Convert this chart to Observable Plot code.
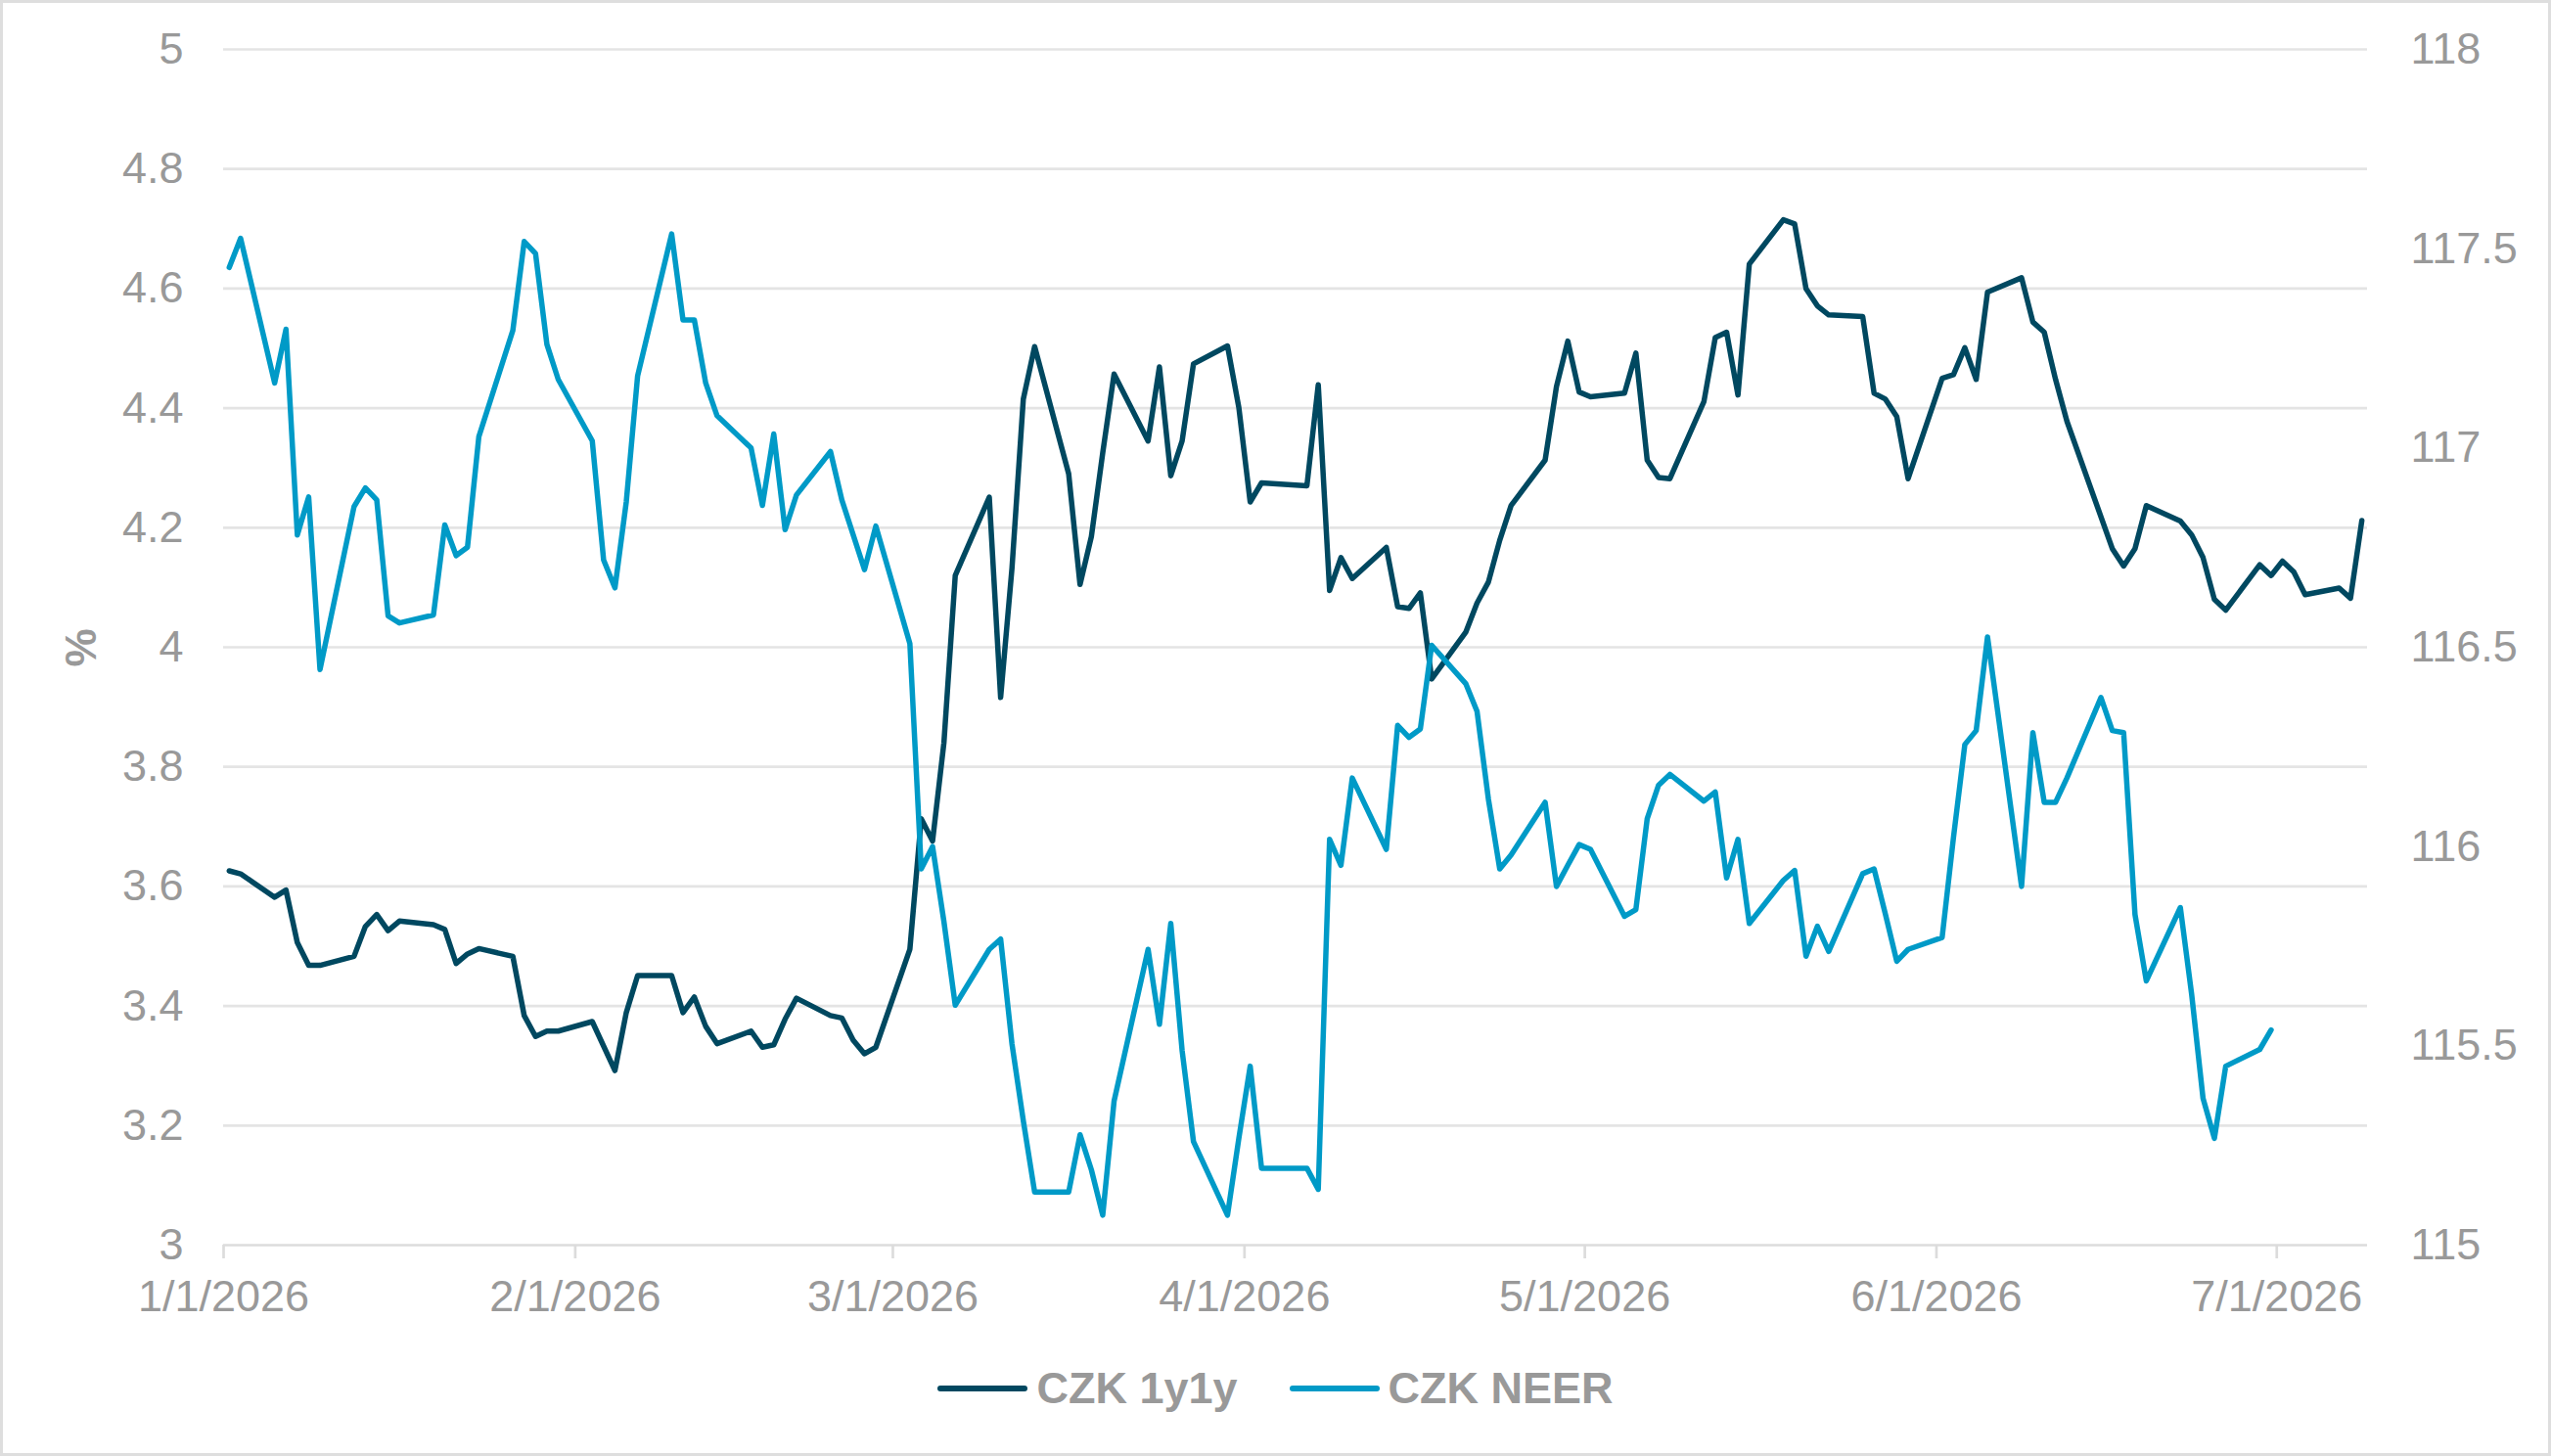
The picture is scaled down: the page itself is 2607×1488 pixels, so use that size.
<!DOCTYPE html>
<html>
<head>
<meta charset="utf-8">
<script src="https://cdn.jsdelivr.net/npm/d3@7"></script>
<script src="https://cdn.jsdelivr.net/npm/@observablehq/plot@0.6"></script>
<style>
  html, body { margin: 0; padding: 0; background: #fff; }
  #wrap { position: relative; width: 2607px; height: 1488px; overflow: hidden; background: #fff;
          font-family: "Liberation Sans", Arial, sans-serif; }
  #chart svg { display: block; position: absolute; left: 0; top: 0; }
  #border { position: absolute; inset: 0; border: 3px solid #dedede; pointer-events: none; }
  #ylabel { position: absolute; left: 83px; top: 662px; transform: translate(-50%, -50%) rotate(-90deg);
            font-weight: bold; font-size: 44px; color: #999; }
  #legend { position: absolute; left: 0; width: 2607px; top: 1392px; height: 54px; display: flex;
            justify-content: center; align-items: center; gap: 53px; font-weight: bold; font-size: 45px; color: #999; }
  .item { display: flex; align-items: center; gap: 9px; }
  .swatch { width: 92px; height: 6px; border-radius: 3px; }
</style>
</head>
<body>
<div id="wrap">
  <div id="chart"></div>
  <div id="ylabel">%</div>
  <div id="legend"></div>
  <div id="border"></div>
</div>
<script>
// ---- data ----
const seriesNames = ["CZK 1y1y", "CZK NEER"];
const seriesColors = ["#004860", "#009ac7"];

// CZK 1y1y, % (left axis)
const czk1y1y = [
  ["2026-01-01",3.626],["2026-01-02",3.621],["2026-01-05",3.582],["2026-01-06",3.594],["2026-01-07",3.506],
  ["2026-01-08",3.468],["2026-01-09",3.468],["2026-01-12",3.483],["2026-01-13",3.533],["2026-01-14",3.553],
  ["2026-01-15",3.526],["2026-01-16",3.542],["2026-01-19",3.536],["2026-01-20",3.528],["2026-01-21",3.471],
  ["2026-01-22",3.487],["2026-01-23",3.496],["2026-01-26",3.483],["2026-01-27",3.384],["2026-01-28",3.349],
  ["2026-01-29",3.358],["2026-01-30",3.358],["2026-02-02",3.374],["2026-02-04",3.292],["2026-02-05",3.389],
  ["2026-02-06",3.451],["2026-02-09",3.451],["2026-02-10",3.389],["2026-02-11",3.415],["2026-02-12",3.366],
  ["2026-02-13",3.337],["2026-02-16",3.358],["2026-02-17",3.331],["2026-02-18",3.335],["2026-02-19",3.378],
  ["2026-02-20",3.413],["2026-02-23",3.384],["2026-02-24",3.380],["2026-02-25",3.343],["2026-02-26",3.320],
  ["2026-02-27",3.331],["2026-03-02",3.495],["2026-03-03",3.713],["2026-03-04",3.676],["2026-03-05",3.840],
  ["2026-03-06",4.120],["2026-03-09",4.251],["2026-03-10",3.916],["2026-03-11",4.132],["2026-03-12",4.415],
  ["2026-03-13",4.503],["2026-03-16",4.290],["2026-03-17",4.105],["2026-03-18",4.185],["2026-03-19",4.325],
  ["2026-03-20",4.457],["2026-03-23",4.345],["2026-03-24",4.469],["2026-03-25",4.287],["2026-03-26",4.345],
  ["2026-03-27",4.474],["2026-03-30",4.504],["2026-03-31",4.401],["2026-04-01",4.243],["2026-04-02",4.275],
  ["2026-04-06",4.270],["2026-04-07",4.439],["2026-04-08",4.095],["2026-04-09",4.150],["2026-04-10",4.115],
  ["2026-04-13",4.167],["2026-04-14",4.068],["2026-04-15",4.065],["2026-04-16",4.091],["2026-04-17",3.947],
  ["2026-04-20",4.025],["2026-04-21",4.074],["2026-04-22",4.109],["2026-04-23",4.179],["2026-04-24",4.237],
  ["2026-04-27",4.313],["2026-04-28",4.436],["2026-04-29",4.512],["2026-04-30",4.427],["2026-05-01",4.419],
  ["2026-05-04",4.425],["2026-05-05",4.492],["2026-05-06",4.313],["2026-05-07",4.284],["2026-05-08",4.282],
  ["2026-05-11",4.411],["2026-05-12",4.518],["2026-05-13",4.527],["2026-05-14",4.422],["2026-05-15",4.641],
  ["2026-05-18",4.715],["2026-05-19",4.708],["2026-05-20",4.600],["2026-05-21",4.571],["2026-05-22",4.556],
  ["2026-05-25",4.553],["2026-05-26",4.425],["2026-05-27",4.415],["2026-05-28",4.386],["2026-05-29",4.282],
  ["2026-06-01",4.450],["2026-06-02",4.456],["2026-06-03",4.501],["2026-06-04",4.448],["2026-06-05",4.594],
  ["2026-06-08",4.618],["2026-06-09",4.544],["2026-06-10",4.527],["2026-06-11",4.448],["2026-06-12",4.378],
  ["2026-06-16",4.165],["2026-06-17",4.136],["2026-06-18",4.165],["2026-06-19",4.237],["2026-06-22",4.211],
  ["2026-06-23",4.188],["2026-06-24",4.150],["2026-06-25",4.080],["2026-06-26",4.062],["2026-06-29",4.138],
  ["2026-06-30",4.120],["2026-07-01",4.144],["2026-07-02",4.126],["2026-07-03",4.088],["2026-07-06",4.099],
  ["2026-07-07",4.082],["2026-07-08",4.212]
];

// CZK NEER index (right axis)
const czkNeer = [
  ["2026-01-01",117.453],["2026-01-02",117.526],["2026-01-05",117.163],["2026-01-06",117.298],["2026-01-07",116.782],
  ["2026-01-08",116.877],["2026-01-09",116.444],["2026-01-12",116.853],["2026-01-13",116.900],["2026-01-14",116.870],
  ["2026-01-15",116.579],["2026-01-16",116.561],["2026-01-19",116.581],["2026-01-20",116.807],["2026-01-21",116.730],
  ["2026-01-22",116.751],["2026-01-23",117.028],["2026-01-26",117.295],["2026-01-27",117.518],["2026-01-28",117.488],
  ["2026-01-29",117.260],["2026-01-30",117.172],["2026-02-02",117.018],["2026-02-03",116.719],["2026-02-04",116.649],
  ["2026-02-05",116.865],["2026-02-06",117.181],["2026-02-09",117.537],["2026-02-10",117.321],["2026-02-11",117.321],
  ["2026-02-12",117.163],["2026-02-13",117.081],["2026-02-16",117.000],["2026-02-17",116.856],["2026-02-18",117.035],
  ["2026-02-19",116.795],["2026-02-20",116.882],["2026-02-23",116.991],["2026-02-24",116.870],["2026-02-26",116.695],
  ["2026-02-27",116.804],["2026-03-02",116.509],["2026-03-03",115.944],["2026-03-04",116.000],["2026-03-05",115.812],
  ["2026-03-06",115.602],["2026-03-09",115.742],["2026-03-10",115.768],["2026-03-11",115.505],["2026-03-12",115.312],
  ["2026-03-13",115.133],["2026-03-16",115.133],["2026-03-17",115.277],["2026-03-18",115.189],["2026-03-19",115.075],
  ["2026-03-20",115.361],["2026-03-23",115.742],["2026-03-24",115.554],["2026-03-25",115.807],["2026-03-26",115.488],
  ["2026-03-27",115.260],["2026-03-30",115.075],["2026-03-31",115.268],["2026-04-01",115.449],["2026-04-02",115.193],
  ["2026-04-06",115.193],["2026-04-07",115.140],["2026-04-08",116.018],["2026-04-09",115.953],["2026-04-10",116.172],
  ["2026-04-13",115.993],["2026-04-14",116.304],["2026-04-15",116.274],["2026-04-16",116.295],["2026-04-17",116.505],
  ["2026-04-20",116.409],["2026-04-21",116.339],["2026-04-22",116.119],["2026-04-23",115.944],["2026-04-24",115.979],
  ["2026-04-27",116.111],["2026-04-28",115.900],["2026-04-29",115.953],["2026-04-30",116.005],["2026-05-01",115.993],
  ["2026-05-04",115.825],["2026-05-05",115.842],["2026-05-06",116.070],["2026-05-07",116.154],["2026-05-08",116.181],
  ["2026-05-11",116.114],["2026-05-12",116.137],["2026-05-13",115.921],["2026-05-14",116.018],["2026-05-15",115.807],
  ["2026-05-18",115.915],["2026-05-19",115.940],["2026-05-20",115.725],["2026-05-21",115.800],["2026-05-22",115.737],
  ["2026-05-25",115.932],["2026-05-26",115.944],["2026-05-27",115.830],["2026-05-28",115.712],["2026-05-29",115.742],
  ["2026-06-01",115.772],["2026-06-02",116.023],["2026-06-03",116.256],["2026-06-04",116.291],["2026-06-05",116.526],
  ["2026-06-08",115.900],["2026-06-09",116.286],["2026-06-10",116.111],["2026-06-11",116.111],["2026-06-12",116.172],
  ["2026-06-15",116.374],["2026-06-16",116.291],["2026-06-17",116.286],["2026-06-18",115.830],["2026-06-19",115.663],
  ["2026-06-22",115.847],["2026-06-23",115.628],["2026-06-24",115.368],["2026-06-25",115.268],["2026-06-26",115.449],
  ["2026-06-29",115.491],["2026-06-30",115.540]
];

const leftTicks = [3, 3.2, 3.4, 3.6, 3.8, 4, 4.2, 4.4, 4.6, 4.8, 5];
const rightTicks = [115, 115.5, 116, 116.5, 117, 117.5, 118];
const xTicks = ["2026-01-01","2026-02-01","2026-03-01","2026-04-01","2026-05-01","2026-06-01","2026-07-01"];
const xDomain = ["2026-01-01", "2026-07-09"];
const leftDomain = [3, 5];
const rightDomain = [115, 118];

// map the right (NEER) axis onto the left scale
const toLeft = v => leftDomain[0] + (v - rightDomain[0]) * (leftDomain[1] - leftDomain[0]) / (rightDomain[1] - rightDomain[0]);
const fromLeft = v => rightDomain[0] + (v - leftDomain[0]) * (rightDomain[1] - rightDomain[0]) / (leftDomain[1] - leftDomain[0]);
// daily points sit in the middle of their day, as on a spreadsheet date axis
const dayMid = s => new Date(s + "T12:00:00Z");

const gray = "#999999";
const chart = Plot.plot({
  width: 2607,
  height: 1370,
  marginTop: 50,
  marginBottom: 98,
  marginLeft: 228,
  marginRight: 188,
  style: { fontFamily: "'Liberation Sans', Arial, sans-serif", fontSize: "45px", color: gray, background: "transparent", overflow: "visible" },
  x: { type: "utc", domain: xDomain.map(d => new Date(d)) },
  y: { domain: leftDomain },
  marks: [
    Plot.gridY(leftTicks.filter(d => d > 3), { stroke: "#e4e4e4", strokeOpacity: 1, strokeWidth: 2.7 }),
    Plot.axisY(leftTicks, { anchor: "left", tickSize: 0, tickPadding: 41, fill: gray, label: null,
      tickFormat: d => String(+d.toFixed(1)) }),
    Plot.axisY(rightTicks.map(toLeft), { anchor: "right", tickSize: 0, tickPadding: 44, fill: gray, label: null,
      tickFormat: d => String(Math.round(fromLeft(d) * 10) / 10) }),
    Plot.ruleY([leftDomain[0]], { stroke: "#dcdcdc", strokeWidth: 2.7 }),
    Plot.axisX(xTicks.map(d => new Date(d)), { anchor: "bottom", tickSize: 14, tickPadding: 22, stroke: "#dcdcdc",
      strokeWidth: 2.7, fill: gray, label: null,
      tickFormat: d => `${d.getUTCMonth() + 1}/${d.getUTCDate()}/${d.getUTCFullYear()}` }),
    Plot.lineY(czk1y1y, { x: d => dayMid(d[0]), y: d => d[1], stroke: seriesColors[0], strokeWidth: 5.5,
      strokeLinejoin: "round", strokeLinecap: "round" }),
    Plot.lineY(czkNeer, { x: d => dayMid(d[0]), y: d => toLeft(d[1]), stroke: seriesColors[1], strokeWidth: 5.5,
      strokeLinejoin: "round", strokeLinecap: "round" })
  ]
});
document.getElementById("chart").appendChild(chart);

const legend = document.getElementById("legend");
seriesNames.forEach((name, i) => {
  const item = document.createElement("div");
  item.className = "item";
  const sw = document.createElement("div");
  sw.className = "swatch";
  sw.style.background = seriesColors[i];
  const label = document.createElement("span");
  label.textContent = name;
  item.appendChild(sw);
  item.appendChild(label);
  legend.appendChild(item);
});
</script>
</body>
</html>
